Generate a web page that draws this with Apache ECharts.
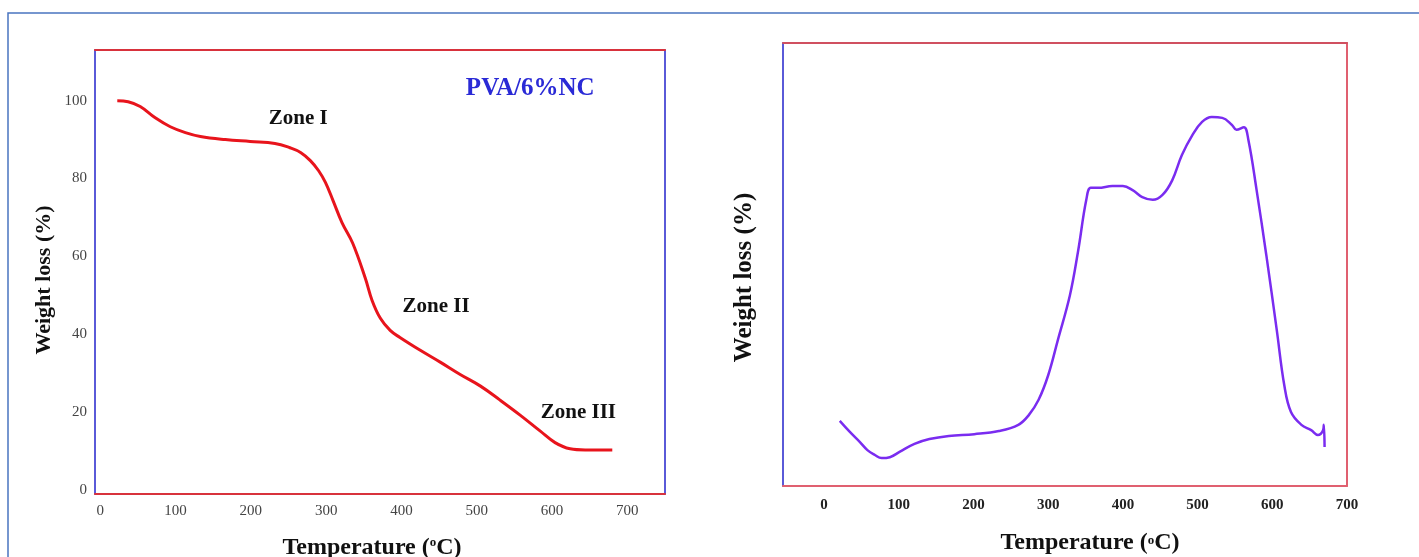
<!DOCTYPE html>
<html><head><meta charset="utf-8">
<script src="https://cdn.jsdelivr.net/npm/echarts@6/dist/echarts.min.js"></script>
<style>html,body{margin:0;padding:0;background:#fff}#c{width:1419px;height:557px}</style>
</head><body><div id="c"></div>
<script>
// ---- data ----
const xTicks = [0, 100, 200, 300, 400, 500, 600, 700];
const yTicksLeft = [0, 20, 40, 60, 80, 100];
// Left: TGA curve (Temperature °C, Weight %)
const tgaTemp = [22.6, 37, 53, 73, 93, 113, 133, 166, 199, 232, 252, 266, 279, 290, 299, 309, 321, 335, 352, 361, 372, 385, 398, 425, 452, 478, 505, 531, 558, 584, 604, 624, 644, 680];
const tgaWeight = [100, 99.7, 98.5, 95.6, 93.3, 91.8, 90.8, 90, 89.5, 89, 87.9, 86.7, 84.6, 82, 79, 74.4, 68.7, 63.5, 54.4, 48.7, 44.1, 41, 39.2, 35.9, 32.8, 29.7, 26.7, 23.1, 19.2, 15.2, 12.2, 10.6, 10.3, 10.3];
// Right: derivative curve (relative units)
const dtgTemp = [21, 34.5, 48, 58, 68, 77, 88, 101, 121, 141, 167, 201, 234, 260, 274, 287, 300, 313, 329, 340, 351, 357, 367, 386, 400, 413, 426, 440, 453, 466, 479, 493, 506, 519, 533, 546, 552, 562, 568, 579, 592, 606, 616, 625, 639, 652, 661, 668, 669, 670];
const dtgValue = [14.7, 12.2, 9.9, 8.1, 7, 6.3, 6.5, 7.7, 9.5, 10.6, 11.3, 11.7, 12.4, 13.8, 16, 19.4, 25, 33, 43, 53, 64.6, 67.3, 67.3, 67.7, 67.7, 66.8, 65.2, 64.6, 65.7, 69, 74.7, 79.2, 82.2, 83.3, 83.1, 81.5, 80.4, 81, 78.1, 66.8, 52.1, 35.2, 22.8, 16.7, 13.8, 12.6, 11.5, 12.6, 13.8, 8.8];
const zoneLabels = [
  {text: 'Zone I', t: 263, w: 95.5},
  {text: 'Zone II', t: 446, w: 47},
  {text: 'Zone III', t: 635, w: 20}
];
const sampleLabel = {text: 'PVA/6%NC', t: 571, w: 103};

const serif = '"Liberation Serif", "DejaVu Serif", serif';
const red = '#d8323c', blue = '#5a5ad8';
const tgaData = tgaTemp.map((t, i) => [t, tgaWeight[i]]);
const dtgData = dtgTemp.map((t, i) => [t, dtgValue[i]]);

const chart = echarts.init(document.getElementById('c'));
const hidden = {axisTick: {show: false}, axisLabel: {show: false}, splitLine: {show: false}};
const tempName = 'Temperature ({sup|o}C)';
function line(color) { return {onZero: false, lineStyle: {color: color, width: 2}}; }
chart.setOption({
  backgroundColor: '#fff',
  animation: false,
  grid: [
    {left: 95, top: 50, width: 570, height: 444, outerBoundsMode: 'none', containLabel: false},
    {left: 783, top: 43, width: 564, height: 443, outerBoundsMode: 'none', containLabel: false}
  ],
  xAxis: [
    {type: 'value', gridIndex: 0, position: 'bottom', min: -7, max: 750,
     axisLine: line(red), axisTick: {show: false}, splitLine: {show: false},
     axisLabel: {customValues: xTicks, fontFamily: serif, fontSize: 15, color: '#444', margin: 10},
     name: tempName, nameLocation: 'middle', nameGap: 42,
     nameTextStyle: {fontFamily: serif, fontSize: 24, fontWeight: 'bold', color: '#111', padding: [0, 16, 0, 0],
       rich: {sup: {fontFamily: serif, fontSize: 13, fontWeight: 'bold', color: '#111', padding: [0, 0, 11, 0]}}}},
    Object.assign({type: 'value', gridIndex: 0, position: 'top', min: -7, max: 750,
     axisLine: line(red)}, hidden),
    {type: 'value', gridIndex: 1, position: 'bottom', min: -55, max: 700,
     axisLine: line('#e06070'), axisTick: {show: false}, splitLine: {show: false},
     axisLabel: {customValues: xTicks, fontFamily: serif, fontSize: 15, fontWeight: 'bold', color: '#222', margin: 12},
     name: tempName, nameLocation: 'middle', nameGap: 45,
     nameTextStyle: {fontFamily: serif, fontSize: 24, fontWeight: 'bold', color: '#111', padding: [0, 0, 0, 50],
       rich: {sup: {fontFamily: serif, fontSize: 13, fontWeight: 'bold', color: '#111', padding: [0, 0, 4, 0]}}}},
    Object.assign({type: 'value', gridIndex: 1, position: 'top', min: -55, max: 700,
     axisLine: line('#d05060')}, hidden)
  ],
  yAxis: [
    {type: 'value', gridIndex: 0, position: 'left', min: -1, max: 113,
     axisLine: line(blue), axisTick: {show: false}, splitLine: {show: false},
     axisLabel: {customValues: yTicksLeft, fontFamily: serif, fontSize: 15, color: '#444', margin: 8},
     name: 'Weight loss (%)', nameLocation: 'middle', nameGap: 40,
     nameTextStyle: {fontFamily: serif, fontSize: 22, fontWeight: 'bold', color: '#111', padding: [0, 16, 0, 0]}},
    Object.assign({type: 'value', gridIndex: 0, position: 'right', min: -1, max: 113,
     axisLine: line(blue)}, hidden),
    Object.assign({type: 'value', gridIndex: 1, position: 'left', min: 0, max: 100,
     axisLine: line(blue),
     name: 'Weight loss (%)', nameLocation: 'middle', nameGap: 26,
     nameTextStyle: {fontFamily: serif, fontSize: 25, fontWeight: 'bold', color: '#111', padding: [0, 26, 0, 0]}}, hidden),
    Object.assign({type: 'value', gridIndex: 1, position: 'right', min: 0, max: 100,
     axisLine: line('#e06070')}, hidden)
  ],
  series: [
    {type: 'line', xAxisIndex: 0, yAxisIndex: 0, data: tgaData, smooth: 0.4, showSymbol: false,
     lineStyle: {color: '#e8141c', width: 3},
     markPoint: {symbol: 'circle', symbolSize: 0, silent: true,
       label: {show: true, position: 'inside', fontFamily: serif, fontSize: 21, fontWeight: 'bold', color: '#111',
         formatter: p => p.name},
       data: zoneLabels.map(z => ({name: z.text, coord: [z.t, z.w]}))
         .concat([{name: sampleLabel.text, coord: [sampleLabel.t, sampleLabel.w],
           label: {fontSize: 25, color: '#2a2ad6', formatter: p => p.name}}])}},
    {type: 'line', xAxisIndex: 2, yAxisIndex: 2, data: dtgData, smooth: 0.4, showSymbol: false,
     lineStyle: {color: '#7a2cf0', width: 2.5}}
  ],
  graphic: [
    {type: 'rect', shape: {x: 8, y: 13, width: 1500, height: 700}, silent: true,
     style: {fill: 'none', stroke: '#4a74c0', lineWidth: 1.5}}
  ]
});
</script></body></html>
